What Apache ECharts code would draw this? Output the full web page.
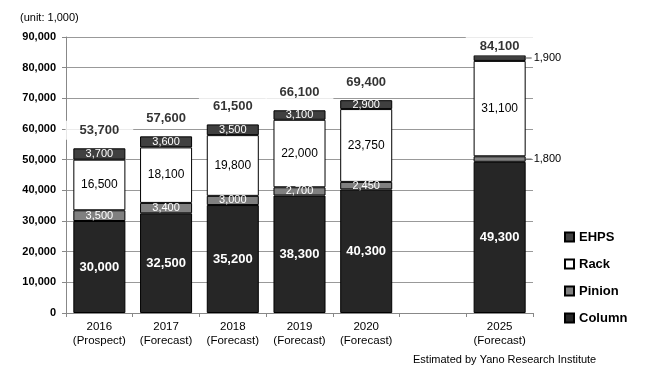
<!DOCTYPE html>
<html>
<head>
<meta charset="utf-8">
<script src="https://cdn.jsdelivr.net/npm/echarts@6/dist/echarts.min.js"></script>
<style>html,body{margin:0;padding:0;background:#fff}#c{width:651px;height:375px}</style>
</head>
<body>
<div id="c"></div>
<script>
const categories = ['2016\n(Prospect)', '2017\n(Forecast)', '2018\n(Forecast)', '2019\n(Forecast)', '2020\n(Forecast)', '', '2025\n(Forecast)'];
const column = [30000, 32500, 35200, 38300, 40300, '-', 49300];
const pinion = [3500, 3400, 3000, 2700, 2450, '-', 1800];
const rack = [16500, 18100, 19800, 22000, 23750, '-', 31100];
const ehps = [3700, 3600, 3500, 3100, 2900, '-', 1900];
const totals = [53700, 57600, 61500, 66100, 69400, '-', 84100];
const yTicks = [0, 10000, 20000, 30000, 40000, 50000, 60000, 70000, 80000, 90000];

const FONT = '"Liberation Sans", Arial, sans-serif';
const fmt = v => Number(v).toLocaleString('en-US');
const OUT = 6; // index of the bar whose small segments are labelled outside

function outsideItems(arr) {
  return arr.map((v, i) => i === OUT ? {
    value: v,
    label: {
      position: 'right', distance: 0, color: '#000',
      formatter: p => '{l|}{v|' + fmt(p.value) + '}',
      rich: {
        l: { width: 6, height: 1, backgroundColor: '#555', verticalAlign: 'middle' },
        v: { fontFamily: FONT, fontSize: 11, color: '#000', padding: [0, 0, 0, 2], verticalAlign: 'middle' }
      }
    }
  } : v);
}

const barBase = {
  type: 'bar', stack: 'total', barWidth: '78%',
  itemStyle: { borderColor: '#000', borderWidth: 1 },
  emphasis: { disabled: true }
};

const chart = echarts.init(document.getElementById('c'), null, { renderer: 'canvas' });
chart.setOption({
  animation: false,
  textStyle: { fontFamily: FONT },
  grid: { left: 66, right: 118, top: 37, bottom: 62 },
  graphic: [
    { type: 'text', left: 20, top: 12, style: { text: '(unit: 1,000)', font: '11px ' + FONT, fill: '#000' } },
    { type: 'text', left: 413, top: 354, style: { text: 'Estimated by Yano Research Institute', font: '11px ' + FONT, fill: '#000' } }
  ],
  legend: {
    orient: 'vertical', left: 559, top: 225, itemWidth: 9, itemHeight: 9, itemGap: 13,
    icon: 'rect',
    data: ['EHPS', 'Rack', 'Pinion', 'Column'],
    textStyle: { fontFamily: FONT, fontSize: 13, fontWeight: 'bold', color: '#000', lineHeight: 14 },
    selectedMode: false
  },
  xAxis: {
    type: 'category', data: categories,
    axisLine: { lineStyle: { color: '#888' } },
    axisTick: { show: true, length: 4, lineStyle: { color: '#888' } },
    axisLabel: { color: '#000', fontSize: 11.5, lineHeight: 14, margin: 7, interval: 0 }
  },
  yAxis: {
    type: 'value', min: 0, max: 90000, interval: 10000,
    axisLine: { show: true, lineStyle: { color: '#888' } },
    axisTick: { show: true, length: 4, lineStyle: { color: '#888' } },
    axisLabel: { color: '#000', fontSize: 11, fontWeight: 'bold', margin: 10, formatter: v => fmt(v) },
    splitLine: { lineStyle: { color: '#999' } }
  },
  series: [
    Object.assign({}, barBase, {
      name: 'Column', data: column, itemStyle: { color: '#262626', borderColor: '#000', borderWidth: 1 },
      label: { show: true, position: 'inside', color: '#fff', fontSize: 13, fontWeight: 'bold', formatter: p => fmt(p.value) }
    }),
    Object.assign({}, barBase, {
      name: 'Pinion', data: outsideItems(pinion), itemStyle: { color: '#808080', borderColor: '#000', borderWidth: 1 },
      label: { show: true, position: 'inside', color: '#fff', fontSize: 11, formatter: p => fmt(p.value) }
    }),
    Object.assign({}, barBase, {
      name: 'Rack', data: rack, itemStyle: { color: '#fff', borderColor: '#000', borderWidth: 1 },
      label: { show: true, position: 'inside', color: '#000', fontSize: 12, formatter: p => fmt(p.value) }
    }),
    Object.assign({}, barBase, {
      name: 'EHPS', data: outsideItems(ehps), itemStyle: { color: '#404040', borderColor: '#000', borderWidth: 1 },
      label: { show: true, position: 'inside', color: '#fff', fontSize: 11, formatter: p => fmt(p.value) }
    }),
    {
      type: 'scatter', name: 'Total', symbolSize: 1, itemStyle: { color: 'transparent' },
      emphasis: { disabled: true }, z: 5,
      data: totals.map((v, i) => i === OUT ? { value: v, label: { offset: [0, 9] } } : v),
      label: {
        show: true, position: 'top', distance: 8, color: '#000', fontSize: 13, fontWeight: 'bold',
        backgroundColor: '#fff', padding: [3, 14],
        formatter: p => fmt(p.value)
      }
    }
  ]
});
</script>
</body>
</html>
